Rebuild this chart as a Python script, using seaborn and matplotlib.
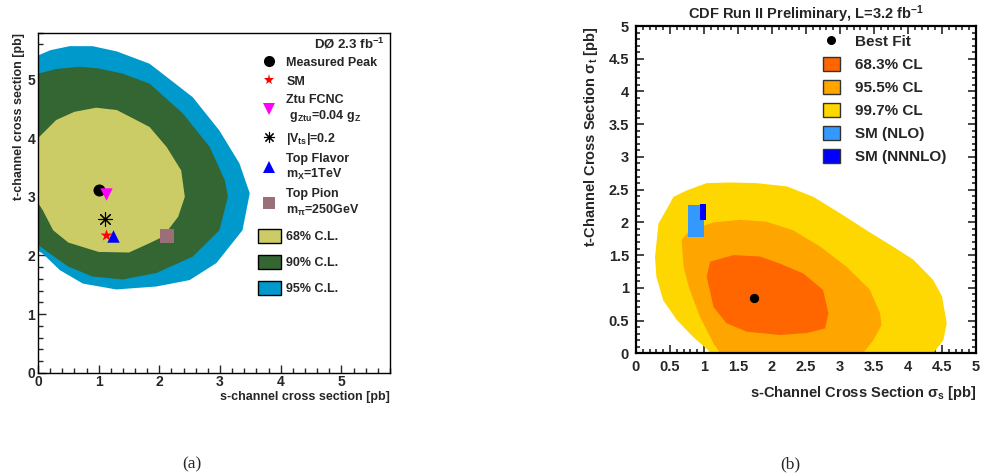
import numpy as np
import pandas as pd
import matplotlib
matplotlib.use("Agg")
import matplotlib.pyplot as plt
import seaborn as sns
from matplotlib.lines import Line2D
from matplotlib.patches import Patch
from matplotlib.ticker import MultipleLocator

# ---------------- Panel (a): D0 2.3 fb^-1 ----------------
a_cl68_s = [0, 0.3, 0.6, 0.96, 1.3, 1.6, 1.84, 2.12, 2.36, 2.42, 2.31, 2.06, 1.84, 1.5, 1.0, 0.5, 0.25, 0.08, 0]
a_cl68_t = [4.0, 4.31, 4.45, 4.52, 4.48, 4.32, 4.19, 3.85, 3.45, 3.0, 2.66, 2.32, 2.21, 2.05, 2.06, 2.22, 2.43, 2.77, 2.9]
a_cl90_s = [0, 0.3, 0.69, 1.0, 1.4, 1.84, 2.39, 2.83, 3.08, 3.13, 2.99, 2.55, 1.95, 1.4, 0.9, 0.5, 0.2, 0]
a_cl90_t = [5.10, 5.18, 5.22, 5.19, 5.10, 4.93, 4.42, 3.85, 3.28, 3.0, 2.43, 1.98, 1.70, 1.59, 1.64, 1.81, 2.03, 2.18]
a_cl95_s = [0, 0.2, 0.52, 0.9, 1.3, 1.84, 2.55, 2.99, 3.32, 3.49, 3.37, 2.94, 2.5, 1.95, 1.29, 0.74, 0.36, 0.08, 0]
a_cl95_t = [5.41, 5.50, 5.57, 5.57, 5.48, 5.27, 4.70, 4.13, 3.57, 3.06, 2.43, 1.87, 1.58, 1.47, 1.42, 1.52, 1.75, 2.03, 2.08]

a_point_names = ["Measured Peak", "SM", "Ztu FCNC", "|Vts|=0.2", "Top Flavor", "Top Pion"]
a_point_s = [1.00, 1.12, 1.12, 1.10, 1.24, 2.12]
a_point_t = [3.11, 2.35, 3.04, 2.63, 2.34, 2.34]
a_point_labels = ["Measured Peak", "SM", "Ztu FCNC\n g$_{Ztu}$=0.04 g$_Z$", "|V$_{ts}$|=0.2",
                  "Top Flavor\nm$_X$=1TeV", "Top Pion\nm$_\\pi$=250GeV"]
a_cl_labels = ["68% C.L.", "90% C.L.", "95% C.L."]
a_ticks = [0, 1, 2, 3, 4, 5]

# ---------------- Panel (b): CDF 3.2 fb^-1 ----------------
b_cl683_s = [1.04, 1.09, 1.43, 1.82, 2.12, 2.46, 2.75, 2.83, 2.78, 2.51, 2.12, 1.63, 1.33, 1.14]
b_cl683_t = [1.17, 1.40, 1.50, 1.48, 1.37, 1.22, 0.97, 0.61, 0.38, 0.31, 0.28, 0.33, 0.46, 0.71]
b_cl955_s = [1.24, 1.14, 0.94, 0.79, 0.70, 0.67, 0.79, 1.14, 1.53, 1.92, 2.31, 2.71, 3.10, 3.44, 3.59, 3.61, 3.49, 3.34]
b_cl955_t = [0, 0.15, 0.56, 0.97, 1.32, 1.73, 1.88, 2.0, 2.04, 2.01, 1.88, 1.63, 1.32, 0.97, 0.61, 0.43, 0.20, 0]
b_cl997_s = [1.10, 1.06, 0.84, 0.60, 0.40, 0.30, 0.28, 0.33, 0.50, 0.55, 0.75, 1.04, 1.38, 1.77, 2.22, 2.61,
             3.0, 3.39, 3.78, 4.08, 4.37, 4.50, 4.57, 4.52, 4.37]
b_cl997_t = [0, 0.05, 0.25, 0.51, 0.81, 1.17, 1.47, 1.98, 2.29, 2.39, 2.49, 2.60, 2.61, 2.60, 2.55, 2.39,
             2.14, 1.88, 1.63, 1.43, 1.12, 0.87, 0.46, 0.20, 0]
b_bestfit_s = [1.74]
b_bestfit_t = [0.84]
b_sm_nlo_s = [0.76, 1.00]
b_sm_nlo_t = [1.77, 2.27]
b_sm_nnnlo_s = [0.94, 1.03]
b_sm_nnnlo_t = [2.04, 2.28]
b_labels = ["Best Fit", "68.3% CL", "95.5% CL", "99.7% CL", "SM (NLO)", "SM (NNNLO)"]
b_ticks = [0, 0.5, 1, 1.5, 2, 2.5, 3, 3.5, 4, 4.5, 5]

# ---------------- style ----------------
sns.set_theme(style="white")
plt.rcParams["font.family"] = ["Liberation Sans", "DejaVu Sans"]
plt.rcParams["font.weight"] = "bold"
plt.rcParams["mathtext.fontset"] = "custom"
plt.rcParams["mathtext.rm"] = "Liberation Sans:bold"
plt.rcParams["mathtext.it"] = "Liberation Sans:bold"
plt.rcParams["mathtext.bf"] = "Liberation Sans:bold"
plt.rcParams["mathtext.default"] = "rm"

fig = plt.figure(figsize=(9.81, 4.75), dpi=100)
axa = fig.add_axes([0.0387, 0.2154, 0.3588, 0.7158])
axb = fig.add_axes([0.6483, 0.2562, 0.3466, 0.6890])

# ----- panel (a) -----
c68a, c90a, c95a = "#CCCC66", "#336633", "#0099CC"
axa.fill(a_cl95_s, a_cl95_t, color=c95a, lw=0)
axa.fill(a_cl90_s, a_cl90_t, color=c90a, lw=0)
axa.fill(a_cl68_s, a_cl68_t, color=c68a, lw=0)

ast = (8, 2, 0)
a_markers = ["o", "*", "v", ast, "^", "s"]
a_colors = ["black", "red", "#FF00FF", "black", "blue", "#9A6F77"]
a_sizes = [75, 80, 80, 95, 80, 110]
for s, t, m, c, z in zip(a_point_s, a_point_t, a_markers, a_colors, a_sizes):
    sns.scatterplot(x=[s], y=[t], marker=m, color=c, s=z, ax=axa, legend=False,
                    linewidth=0.8 if m == ast else 0, edgecolor=c)

axa.set_xlim(0, 5.8)
axa.set_ylim(0, 5.8)
axa.set_xticks(a_ticks)
axa.set_yticks(a_ticks)
axa.set_xticklabels([str(v) for v in a_ticks])
axa.set_yticklabels([str(v) for v in a_ticks])
axa.xaxis.set_minor_locator(MultipleLocator(0.2))
axa.yaxis.set_minor_locator(MultipleLocator(0.2))
axa.tick_params(which="both", direction="in", top=False, right=False, bottom=True, left=True,
                labelsize=10, width=1)
axa.tick_params(which="major", length=6, pad=2)
axa.tick_params(which="minor", length=3.5)
for sp in axa.spines.values():
    sp.set_color("black")
    sp.set_linewidth(1.0)
axa.set_xlabel("s-channel cross section [pb]", fontsize=9, fontweight="bold", loc="right", labelpad=1)
axa.set_ylabel("t-channel cross section [pb]", fontsize=9, fontweight="bold", loc="top", labelpad=2)
axa.text(0.985, 0.99, "DØ 2.3 fb$^{-1}$", transform=axa.transAxes, ha="right", va="top",
         fontsize=9.5, fontweight="bold")

a_mhandles = []
for m, c in zip(a_markers, a_colors):
    a_mhandles.append(Line2D([], [], marker=m, color=c, linestyle="none",
                             markersize=8,
                             markeredgewidth=0.8 if m == ast else 0))
leg1 = axa.legend(a_mhandles, a_point_labels, loc="upper left", bbox_to_anchor=(0.624, 0.932),
                  frameon=False, fontsize=9, handlelength=1.9, handleheight=1.0, handletextpad=0.4,
                  labelspacing=0.5, borderpad=0, borderaxespad=0)
axa.add_artist(leg1)
a_phandles = [Patch(facecolor=c, edgecolor="black", linewidth=1.0) for c in [c68a, c90a, c95a]]
axa.legend(a_phandles, a_cl_labels, loc="upper left", bbox_to_anchor=(0.624, 0.424),
           frameon=False, fontsize=9, handlelength=1.9, handleheight=1.35, handletextpad=0.4,
           labelspacing=0.96, borderpad=0, borderaxespad=0)

# ----- panel (b) -----
c683, c955, c997 = "#FF6600", "#FFA500", "#FFD700"
cnlo, cnnnlo = "#3399FF", "#0000FF"
axb.fill(b_cl997_s, b_cl997_t, color=c997, lw=0)
axb.fill(b_cl955_s, b_cl955_t, color=c955, lw=0)
axb.fill(b_cl683_s, b_cl683_t, color=c683, lw=0)
axb.fill_between(b_sm_nlo_s, b_sm_nlo_t[0], b_sm_nlo_t[1], color=cnlo, lw=0)
axb.fill_between(b_sm_nnnlo_s, b_sm_nnnlo_t[0], b_sm_nnnlo_t[1], color=cnnnlo, lw=0)
sns.scatterplot(x=b_bestfit_s, y=b_bestfit_t, color="black", s=45, linewidth=0, ax=axb, legend=False)

axb.set_xlim(0, 5)
axb.set_ylim(0, 5)
axb.set_xticks(b_ticks)
axb.set_yticks(b_ticks)
axb.set_xticklabels(["%g" % v for v in b_ticks])
axb.set_yticklabels(["%g" % v for v in b_ticks])
axb.xaxis.set_minor_locator(MultipleLocator(0.1))
axb.yaxis.set_minor_locator(MultipleLocator(0.1))
axb.tick_params(which="both", direction="in", top=True, right=True, bottom=True, left=True,
                labelsize=10.5, width=1.2)
axb.tick_params(which="major", length=6, pad=5)
axb.tick_params(which="minor", length=3)
for sp in axb.spines.values():
    sp.set_color("black")
    sp.set_linewidth(1.6)
axb.set_xlabel("s-Channel Cross Section σ$_{s}$ [pb]", fontsize=10.5, fontweight="bold", loc="right",
               labelpad=7)
axb.set_ylabel("t-Channel Cross Section σ$_{t}$ [pb]", fontsize=10.5, fontweight="bold", loc="top",
               labelpad=6)
axb.set_title("CDF Run II Preliminary, L=3.2 fb$^{-1}$", fontsize=10.5, fontweight="bold", pad=5)

b_handles = [Line2D([], [], marker="o", color="black", linestyle="none", markersize=6.5,
                    markeredgewidth=0)]
for c in [c683, c955, c997, cnlo, cnnnlo]:
    b_handles.append(Patch(facecolor=c, edgecolor="#333333", linewidth=1.0))
axb.legend(b_handles, b_labels, loc="upper left", bbox_to_anchor=(0.55, 0.975), frameon=False,
           fontsize=11, handlelength=1.1, handleheight=1.0, handletextpad=1.0, labelspacing=0.52,
           borderpad=0, borderaxespad=0)

# captions
fig.text(192 / 981, 1 - 464 / 475, "(a)", ha="center", va="center", fontsize=12.5,
         family="Liberation Serif", fontweight="normal")
fig.text(790 / 981, 1 - 464 / 475, "(b)", ha="center", va="center", fontsize=12.5,
         family="Liberation Serif", fontweight="normal")

fig.savefig("out.png", dpi=100)
